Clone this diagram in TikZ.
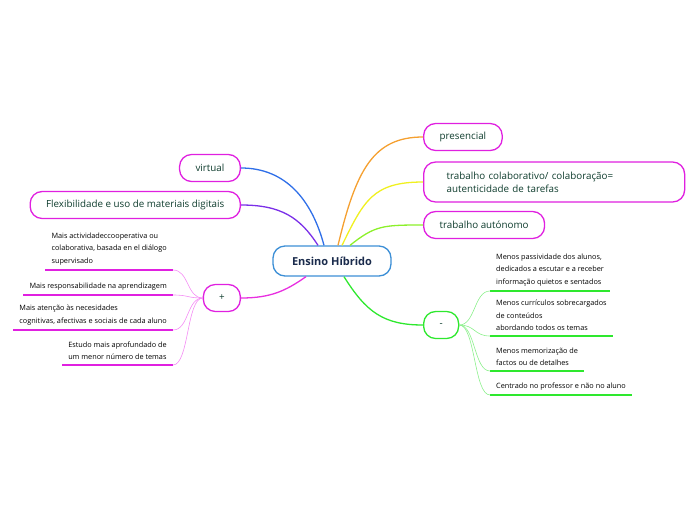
\documentclass[tikz,border=0pt]{standalone}
\usepackage{fontspec}
\setmainfont{Open Sans}
\usetikzlibrary{positioning, calc}

\definecolor{rootblue}{HTML}{3C8FD6}
\definecolor{rootnavy}{HTML}{1A2B4C}
\definecolor{topicmag}{HTML}{E020E0}
\definecolor{topicgreen}{HTML}{0F3D2E}
\definecolor{minusgreen}{HTML}{2EE82E}
\definecolor{lineblue}{HTML}{2F6FE8}
\definecolor{linepurple}{HTML}{7B2FE8}
\definecolor{linemag}{HTML}{E82FE0}
\definecolor{lineorange}{HTML}{F5A030}
\definecolor{lineyellow}{HTML}{F0F020}
\definecolor{linelime}{HTML}{8CF02A}
\definecolor{twigpink}{HTML}{F48CF4}
\definecolor{twiggreen}{HTML}{8CF08C}

\begin{document}
\begin{tikzpicture}[
  x=1pt, y=-1pt,
  % Estilos de nodos
  rootbox/.style={draw=rootblue, fill=white, rounded corners=12pt, line width=1.3pt, minimum width=118pt, minimum height=30pt, text=rootnavy, font=\fontsize{11}{13}\selectfont\bfseries},
  topicbox/.style={draw=topicmag, fill=white, rounded corners=12pt, line width=1.3pt, minimum height=27pt, inner xsep=16pt, text=topicgreen, font=\fontsize{9.8}{13}\selectfont},
  leaf/.style={inner xsep=6pt, inner ysep=5pt, align=left, font=\fontsize{7.3}{12.5}\selectfont},
  % Estilos de lineas
  branch/.style={draw, line width=1.3pt},
  twig/.style={draw, line width=0.6pt},
  underline/.style={draw, line width=1.8pt}
]
  \useasboundingbox (0,0) rectangle (696,520);

  % ==========================================
  % CENTRAL TOPIC
  % ==========================================
  \node[rootbox] (root) at (332,261) {Ensino Híbrido};

  % ==========================================
  % LEFT SIDE
  % ==========================================
  \node[topicbox, anchor=east] (virtual) at (241,168) {virtual};
  \node[topicbox, anchor=east] (flex) at (241,205) {Flexibilidade e uso de materiais digitais};
  \node[topicbox, anchor=east, minimum width=37pt, inner xsep=0pt] (plus) at (241,298) {+};

  % --- leaves of "+" ---
  \node[leaf, anchor=south east] (mais1) at (173,270) {Mais actividadeccooperativa ou\\colaborativa, basada en el diálogo\\supervisado};
  \node[leaf, anchor=south east] (mais2) at (173,295) {Mais responsabilidade na aprendizagem};
  \node[leaf, anchor=south east] (mais3) at (173,330) {Mais atenção às necesidades\\cognitivas, afectivas e sociais de cada aluno};
  \node[leaf, anchor=south east] (mais4) at (173,365) {Estudo mais aprofundado de\\um menor número de temas};

  % ==========================================
  % RIGHT SIDE
  % ==========================================
  \node[topicbox, anchor=west] (pres) at (423,137) {presencial};
  \node[topicbox, anchor=west, minimum height=40pt, text width=215pt, inner xsep=23pt, align=left] (colab) at (423,182) {trabalho colaborativo/ colaboração=\\autenticidade de tarefas};
  \node[topicbox, anchor=west] (auto) at (423,225) {trabalho autónomo};
  \node[topicbox, draw=minusgreen, anchor=west, minimum width=35pt, inner xsep=0pt] (minus) at (423,325) {-};

  % --- leaves of "-" ---
  \node[leaf, anchor=south west] (menos1) at (490,291) {Menos passividade dos alunos,\\dedicados a escutar e a receber\\informação quietos e sentados};
  \node[leaf, anchor=south west] (menos2) at (490,336) {Menos currículos sobrecargados\\de conteúdos\\abordando todos os temas};
  \node[leaf, anchor=south west] (menos3) at (490,371) {Menos memorização de\\factos ou de detalhes};
  \node[leaf, anchor=south west] (menos4) at (490,395) {Centrado no professor e não no aluno};

  % ==========================================
  % BRANCHES FROM THE CENTRAL TOPIC
  % ==========================================
  \path[branch, lineblue] ([xshift=-8pt]root.north) .. controls +(-12,-45) and +(45,0) .. (virtual.east);
  \path[branch, linepurple] ([xshift=-14pt]root.north) .. controls +(-18,-28) and +(40,0) .. (flex.east);
  \path[branch, linemag] ([xshift=-26pt]root.south) .. controls +(-20,14) and +(30,0) .. (plus.east);
  \path[branch, lineorange] ([xshift=6pt]root.north) .. controls +(18,-75) and +(-50,0) .. (pres.west);
  \path[branch, lineyellow] ([xshift=10pt]root.north) .. controls +(22,-45) and +(-50,0) .. (colab.west);
  \path[branch, linelime] ([xshift=18pt]root.north) .. controls +(25,-20) and +(-40,0) .. (auto.west);
  \path[branch, minusgreen] ([xshift=12pt]root.south) .. controls +(22,35) and +(-40,0) .. (minus.west);

  % ==========================================
  % TWIGS AND UNDERLINES
  % ==========================================
  \foreach \leafname in {mais1, mais2, mais3, mais4} {
    \path[underline, topicmag] (\leafname.south west) -- (\leafname.south east);
    \path[twig, twigpink] (plus.west) .. controls +(-16,0) and +(16,0) .. (\leafname.south east);
  }
  \foreach \leafname in {menos1, menos2, menos3, menos4} {
    \path[underline, minusgreen] (\leafname.south west) -- (\leafname.south east);
    \path[twig, twiggreen] (minus.east) .. controls +(16,0) and +(-16,0) .. (\leafname.south west);
  }

\end{tikzpicture}
\end{document}
